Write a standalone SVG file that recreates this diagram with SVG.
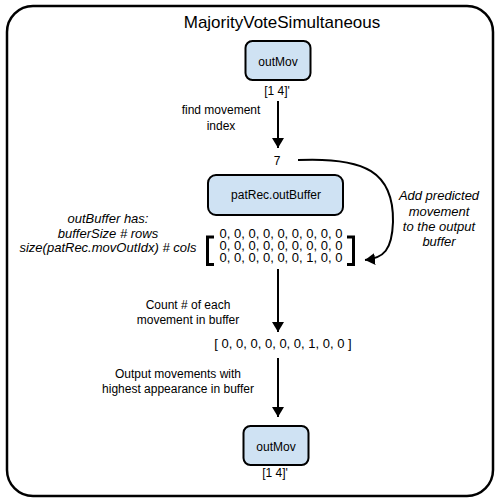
<svg xmlns="http://www.w3.org/2000/svg" width="500" height="499" viewBox="0 0 500 499">
<defs>
<marker id="ah" markerWidth="10" markerHeight="12" refX="10" refY="5" orient="auto" markerUnits="userSpaceOnUse" viewBox="0 0 10 10" preserveAspectRatio="none">
<path d="M0,0 L10,5 L0,10 Z" fill="#000"/>
</marker>
<style>
text{font-family:"Liberation Sans",Arial,sans-serif;fill:#000}
.node{fill:#cfe2f3;stroke:#000;stroke-width:2}
.lbl{font-size:12px;text-anchor:middle}
.it{font-size:13px;font-style:italic;text-anchor:middle}
.mat{font-size:13px;text-anchor:middle}
.conn{fill:none;stroke:#000;stroke-width:2}
</style>
</defs>
<rect x="7" y="6" width="486" height="490" rx="26" fill="#fff" stroke="#000" stroke-width="2.5"/>
<text x="282" y="28" font-size="17" text-anchor="middle">MajorityVoteSimultaneous</text>

<g id="outMovTop">
<rect class="node" x="245.5" y="41" width="65" height="39" rx="7"/>
<text class="lbl" x="278" y="66" font-size="12.5">outMov</text>
<text class="lbl" x="277" y="95" font-size="11.5">[1 4]'</text>
</g>

<g id="seven">
<text class="lbl" x="277" y="165">7</text>
</g>

<g id="outBuffer">
<rect class="node" x="208" y="175" width="135" height="40" rx="8"/>
<text class="lbl" x="276" y="199">patRec.outBuffer</text>
</g>

<g id="matrix">
<text class="mat" x="281" y="238">0, 0, 0, 0, 0, 0, 0, 0, 0</text>
<text class="mat" x="281" y="250">0, 0, 0, 0, 0, 0, 0, 0, 0</text>
<text class="mat" x="281" y="262">0, 0, 0, 0, 0, 0, 1, 0, 0</text>
<path d="M214,237 H207.5 V264.5 H214" fill="none" stroke="#000" stroke-width="3"/>
<path d="M347,237 H353.5 V264.5 H347" fill="none" stroke="#000" stroke-width="3"/>
</g>

<g id="bufferNote">
<text class="it" x="108" y="223">outBuffer has:</text>
<text class="it" x="108" y="238">bufferSize # rows</text>
<text class="it" x="108" y="252">size(patRec.movOutIdx) # cols</text>
</g>

<g id="addNote">
<text class="it" x="439" y="200">Add predicted</text>
<text class="it" x="439" y="216">movement</text>
<text class="it" x="439" y="231">to the output</text>
<text class="it" x="439" y="246">buffer</text>
</g>

<g id="counts">
<text class="mat" x="283" y="348">[ 0, 0, 0, 0, 0, 0, 1, 0, 0 ]</text>
</g>

<g id="outMovBottom">
<rect class="node" x="243.5" y="426" width="65" height="39" rx="7"/>
<text class="lbl" x="276" y="451" font-size="12.5">outMov</text>
<text class="lbl" x="275" y="477" font-size="11.5">[1 4]'</text>
</g>

<g id="connectors">
<path class="conn" d="M278,101 V148" marker-end="url(#ah)"/>
<text class="lbl" x="221" y="114">find movement</text>
<text class="lbl" x="221" y="130">index</text>
<path class="conn" d="M298,160 C365,157 394,172 393,222 C392,250 384,258 365,260" marker-end="url(#ah)"/>
<path class="conn" d="M278,269 V332" marker-end="url(#ah)"/>
<text class="lbl" x="188" y="309">Count # of each</text>
<text class="lbl" x="188" y="324">movement in buffer</text>
<path class="conn" d="M278,358 V417" marker-end="url(#ah)"/>
<text class="lbl" x="178" y="378">Output movements with</text>
<text class="lbl" x="178" y="393">highest appearance in buffer</text>
</g>
</svg>
